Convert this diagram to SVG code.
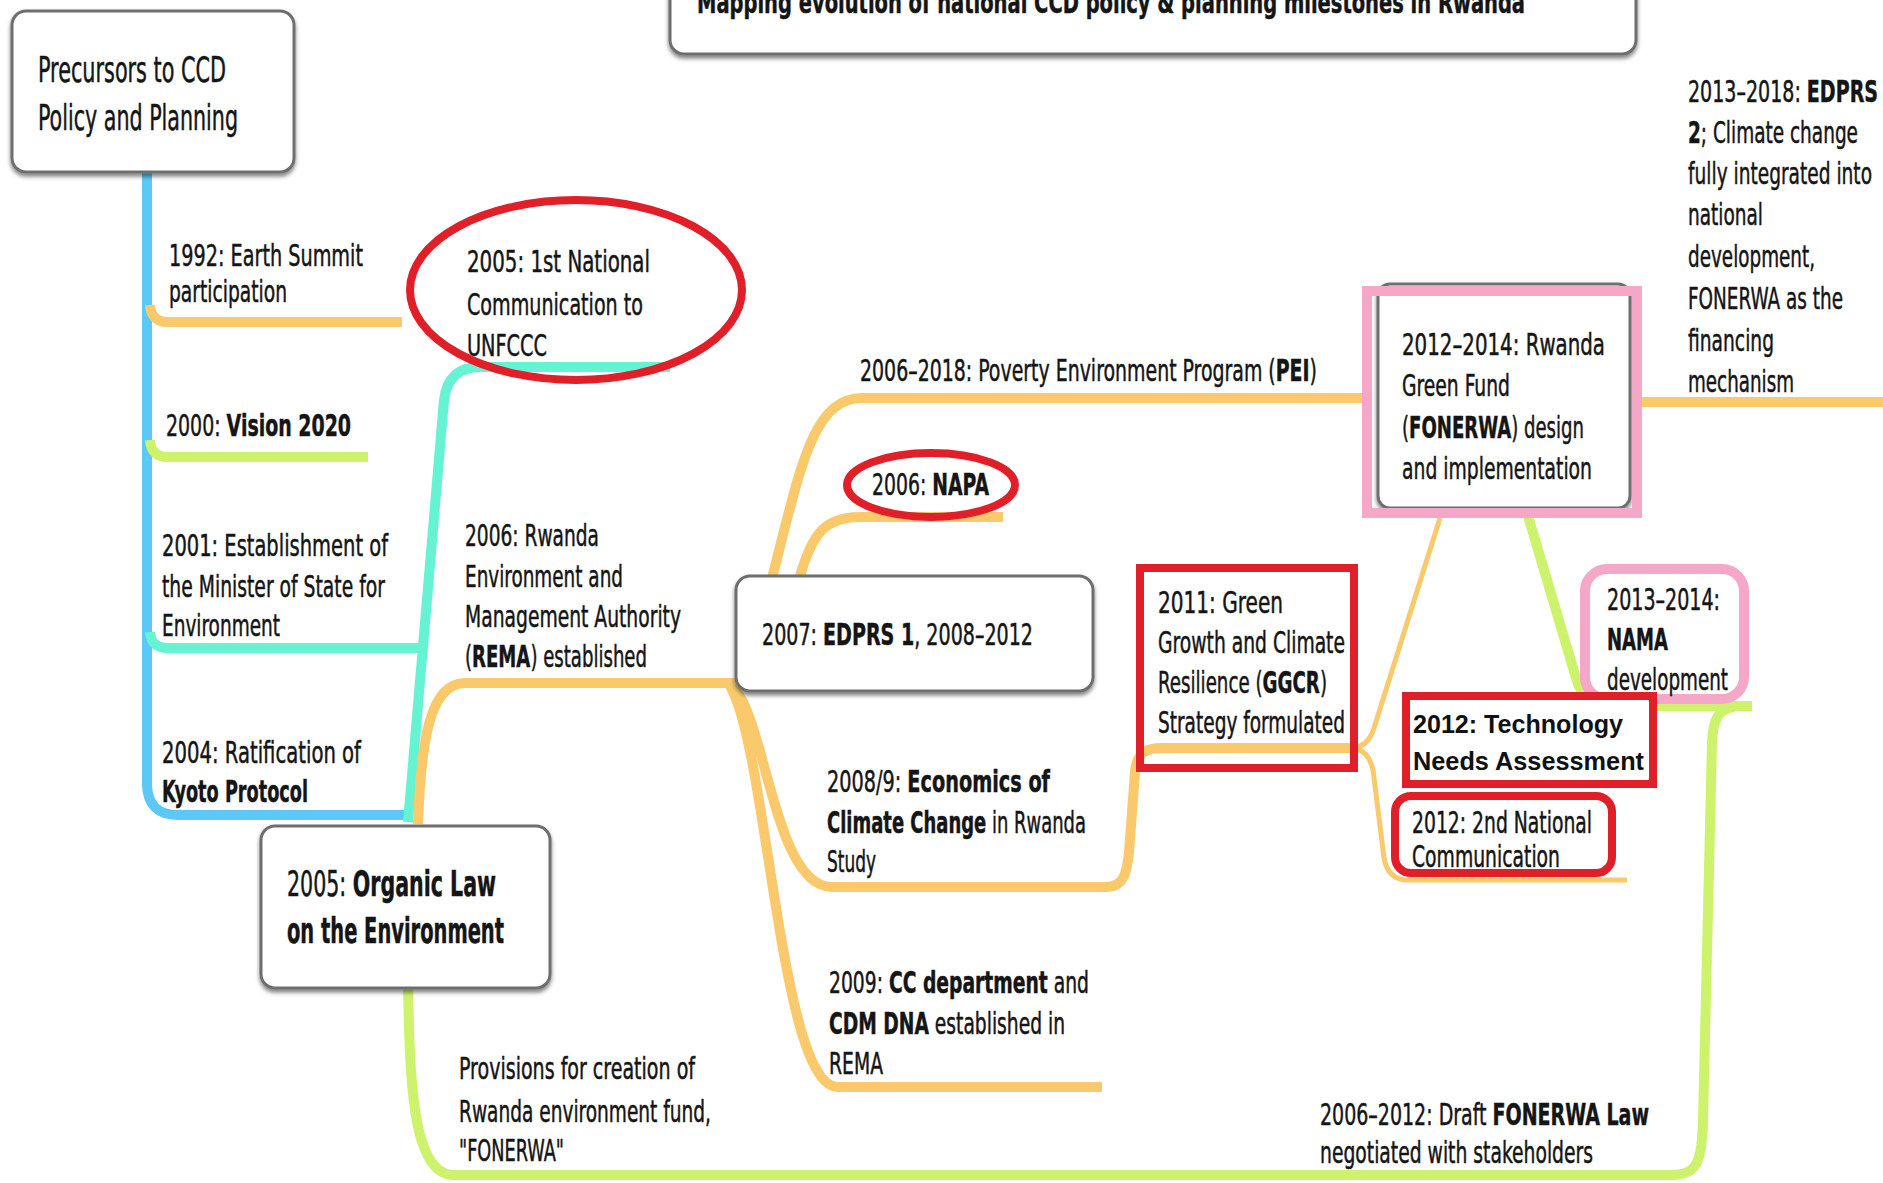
<svg xmlns="http://www.w3.org/2000/svg" width="1883" height="1183" viewBox="0 0 1883 1183">
<defs>
<filter id="sh" x="-10%" y="-10%" width="120%" height="130%">
<feDropShadow dx="0" dy="3" stdDeviation="2" flood-color="#000" flood-opacity="0.5"/>
</filter>
<style>
.t{font-family:"Liberation Sans Narrow","DejaVu Sans Condensed","Liberation Sans",sans-serif;font-size:31px;fill:#151515;stroke:#151515;stroke-width:0.5px}
.big{font-size:36px}
.b{font-weight:bold}
.tna{font-family:"Liberation Sans","Noto Sans",sans-serif;font-size:25px;font-weight:bold;fill:#111}
.box{fill:#fff;stroke:#6e6e6e;stroke-width:3}
.c{fill:none;stroke-linecap:butt;stroke-linejoin:round}
.or{stroke:#F9C96C;stroke-width:10}
.ort{stroke:#F9C96C;stroke-width:5}
.bl{stroke:#5CC8F6;stroke-width:10}
.cy{stroke:#66F3D4;stroke-width:10}
.gr{stroke:#CDF26C;stroke-width:10}
.red{fill:none;stroke:#E11F29;stroke-width:8}
.pink{fill:none;stroke:#F4A7C6;stroke-width:10}
</style>
</defs>
<rect width="1883" height="1183" fill="#fff"/>

<g id="connectors">
<path class="c bl" d="M147 172 L147 785 Q148 815 178 815 L410 815"/>
<path class="c or" d="M150 305 Q151 322 168 322 L402 322"/>
<path class="c gr" d="M150 440 Q151 457 168 457 L368 457"/>
<path class="c cy" d="M150 632 Q151 648 168 648 L421 648"/>
<path class="c cy" d="M408 822 L444 400 Q448 367 480 367 L670 367"/>
<path class="c or" d="M418 824 C421 740 430 683 465 683 L736 683"/>
<path class="c or" d="M772 578 C800 470 812 398 862 398 L1368 398"/>
<path class="c or" d="M800 576 C812 535 824 517 860 517 L1003 517"/>
<path class="c or" d="M730 686 C765 705 772 887 832 887 L1106 887 C1124 887 1127 872 1129 852 L1135 772 C1137 752 1146 748 1162 748 L1352 748"/>
<path class="c or" d="M730 686 C768 750 780 1087 838 1087 L1102 1087"/>
<path class="c ort" d="M1350 748 Q1368 748 1374 728 L1440 518"/>
<path class="c ort" d="M1350 748 Q1368 748 1373 770 L1384 858 Q1388 880 1408 880 L1627 880"/>
<path class="c or" d="M1637 402 L1883 402"/>
<path class="c gr" d="M1528 516 L1576 678 Q1584 706 1612 706 L1752 706"/>
<path class="c gr" d="M408 988 C410 1080 412 1172 452 1175 L1672 1175 C1698 1175 1702 1160 1703 1120 L1712 742 C1713 716 1720 708 1738 706"/>
</g>

<g id="title">
<rect class="box" filter="url(#sh)" x="670" y="-20" width="966" height="74" rx="14"/>
<text class="t b" x="697" y="13" font-size="29" textLength="828" lengthAdjust="spacingAndGlyphs">Mapping evolution of national CCD policy &amp; planning milestones in Rwanda</text>
</g>

<g id="precursors">
<rect class="box" filter="url(#sh)" x="12" y="11" width="282" height="161" rx="14"/>
<text class="t big" x="38" y="82" textLength="188" lengthAdjust="spacingAndGlyphs">Precursors to CCD</text>
<text class="t big" x="38" y="130" textLength="200" lengthAdjust="spacingAndGlyphs">Policy and Planning</text>
</g>

<g id="n1992">
<text class="t" x="169" y="266" textLength="194" lengthAdjust="spacingAndGlyphs">1992: Earth Summit</text>
<text class="t" x="169" y="302" textLength="118" lengthAdjust="spacingAndGlyphs">participation</text>
</g>

<g id="n2000">
<text class="t" x="166" y="436" textLength="185" lengthAdjust="spacingAndGlyphs">2000: <tspan class="b">Vision 2020</tspan></text>
</g>

<g id="n2001">
<text class="t" x="162" y="556" textLength="226" lengthAdjust="spacingAndGlyphs">2001: Establishment of</text>
<text class="t" x="162" y="597" textLength="223" lengthAdjust="spacingAndGlyphs">the Minister of State for</text>
<text class="t" x="162" y="636" textLength="118" lengthAdjust="spacingAndGlyphs">Environment</text>
</g>

<g id="n2004">
<text class="t" x="162" y="763" textLength="199" lengthAdjust="spacingAndGlyphs">2004: Ratification of</text>
<text class="t b" x="162" y="802" textLength="146" lengthAdjust="spacingAndGlyphs">Kyoto Protocol</text>
</g>

<g id="n2005nc">
<text class="t" x="467" y="272" textLength="183" lengthAdjust="spacingAndGlyphs">2005: 1st National</text>
<text class="t" x="467" y="315" textLength="176" lengthAdjust="spacingAndGlyphs">Communication to</text>
<text class="t" x="467" y="356" textLength="80" lengthAdjust="spacingAndGlyphs">UNFCCC</text>
<ellipse class="red" cx="576" cy="290" rx="166" ry="90"/>
</g>

<g id="rema">
<text class="t" x="465" y="546" textLength="134" lengthAdjust="spacingAndGlyphs">2006: Rwanda</text>
<text class="t" x="465" y="587" textLength="158" lengthAdjust="spacingAndGlyphs">Environment and</text>
<text class="t" x="465" y="627" textLength="216" lengthAdjust="spacingAndGlyphs">Management Authority</text>
<text class="t" x="465" y="667" textLength="182" lengthAdjust="spacingAndGlyphs">(<tspan class="b">REMA</tspan>) established</text>
</g>

<g id="organic">
<rect class="box" filter="url(#sh)" x="261" y="826" width="289" height="162" rx="14"/>
<text class="t big" x="287" y="896" textLength="209" lengthAdjust="spacingAndGlyphs">2005: <tspan class="b">Organic Law</tspan></text>
<text class="t big b" x="287" y="943" textLength="217" lengthAdjust="spacingAndGlyphs">on the Environment</text>
</g>

<g id="provisions">
<text class="t" x="459" y="1079" textLength="236" lengthAdjust="spacingAndGlyphs">Provisions for creation of</text>
<text class="t" x="459" y="1122" textLength="252" lengthAdjust="spacingAndGlyphs">Rwanda environment fund,</text>
<text class="t" x="459" y="1161" textLength="105" lengthAdjust="spacingAndGlyphs">"FONERWA"</text>
</g>

<g id="pei">
<text class="t" x="860" y="381" textLength="457" lengthAdjust="spacingAndGlyphs">2006–2018: Poverty Environment Program (<tspan class="b">PEI</tspan>)</text>
</g>

<g id="napa">
<text class="t" x="872" y="495" textLength="117" lengthAdjust="spacingAndGlyphs">2006: <tspan class="b">NAPA</tspan></text>
<ellipse class="red" cx="931" cy="485" rx="84" ry="32" stroke-width="7"/>
</g>

<g id="edprs1">
<rect class="box" filter="url(#sh)" x="736" y="576" width="357" height="115" rx="14"/>
<text class="t" x="762" y="645" textLength="271" lengthAdjust="spacingAndGlyphs">2007: <tspan class="b">EDPRS 1</tspan>, 2008–2012</text>
</g>

<g id="economics">
<text class="t" x="827" y="792" textLength="223" lengthAdjust="spacingAndGlyphs">2008/9: <tspan class="b">Economics of</tspan></text>
<text class="t" x="827" y="833" textLength="259" lengthAdjust="spacingAndGlyphs"><tspan class="b">Climate Change</tspan> in Rwanda</text>
<text class="t" x="827" y="872" textLength="49" lengthAdjust="spacingAndGlyphs">Study</text>
</g>

<g id="cc2009">
<text class="t" x="829" y="993" textLength="260" lengthAdjust="spacingAndGlyphs">2009: <tspan class="b">CC department</tspan> and</text>
<text class="t" x="829" y="1034" textLength="236" lengthAdjust="spacingAndGlyphs"><tspan class="b">CDM DNA</tspan> established in</text>
<text class="t" x="829" y="1074" textLength="54" lengthAdjust="spacingAndGlyphs">REMA</text>
</g>

<g id="ggcr">
<text class="t" x="1158" y="613" textLength="125" lengthAdjust="spacingAndGlyphs">2011: Green</text>
<text class="t" x="1158" y="653" textLength="187" lengthAdjust="spacingAndGlyphs">Growth and Climate</text>
<text class="t" x="1158" y="693" textLength="169" lengthAdjust="spacingAndGlyphs">Resilience (<tspan class="b">GGCR</tspan>)</text>
<text class="t" x="1158" y="733" textLength="187" lengthAdjust="spacingAndGlyphs">Strategy formulated</text>
<rect class="red" x="1140" y="568" width="214" height="200" stroke-width="9"/>
</g>

<g id="fonerwa">
<rect class="box" filter="url(#sh)" x="1378" y="284" width="252" height="224" rx="12"/>
<rect class="pink" x="1367" y="291" width="270" height="222"/>
<text class="t" x="1402" y="355" textLength="203" lengthAdjust="spacingAndGlyphs">2012–2014: Rwanda</text>
<text class="t" x="1402" y="396" textLength="108" lengthAdjust="spacingAndGlyphs">Green Fund</text>
<text class="t" x="1402" y="438" textLength="182" lengthAdjust="spacingAndGlyphs">(<tspan class="b">FONERWA</tspan>) design</text>
<text class="t" x="1402" y="479" textLength="190" lengthAdjust="spacingAndGlyphs">and implementation</text>
</g>

<g id="edprs2">
<text class="t" x="1688" y="102" textLength="190" lengthAdjust="spacingAndGlyphs">2013–2018: <tspan class="b">EDPRS</tspan></text>
<text class="t" x="1688" y="143" textLength="170" lengthAdjust="spacingAndGlyphs"><tspan class="b">2</tspan>; Climate change</text>
<text class="t" x="1688" y="184" textLength="184" lengthAdjust="spacingAndGlyphs">fully integrated into</text>
<text class="t" x="1688" y="225" textLength="75" lengthAdjust="spacingAndGlyphs">national</text>
<text class="t" x="1688" y="267" textLength="127" lengthAdjust="spacingAndGlyphs">development,</text>
<text class="t" x="1688" y="309" textLength="155" lengthAdjust="spacingAndGlyphs">FONERWA as the</text>
<text class="t" x="1688" y="351" textLength="86" lengthAdjust="spacingAndGlyphs">financing</text>
<text class="t" x="1688" y="392" textLength="106" lengthAdjust="spacingAndGlyphs">mechanism</text>
</g>

<g id="nama">
<rect class="pink" x="1585" y="569" width="159" height="130" rx="22" stroke-width="9"/>
<text class="t" x="1607" y="610" textLength="113" lengthAdjust="spacingAndGlyphs">2013–2014:</text>
<text class="t b" x="1607" y="650" textLength="61" lengthAdjust="spacingAndGlyphs">NAMA</text>
<text class="t" x="1607" y="690" textLength="121" lengthAdjust="spacingAndGlyphs">development</text>
</g>

<g id="tna">
<rect x="1406" y="696" width="247" height="88" fill="#fff" stroke="#E11F29" stroke-width="8"/>
<text class="tna" x="1413" y="733" textLength="210" lengthAdjust="spacingAndGlyphs">2012: Technology</text>
<text class="tna" x="1413" y="770" textLength="231" lengthAdjust="spacingAndGlyphs">Needs Assessment</text>
</g>

<g id="nc2">
<text class="t" x="1412" y="833" textLength="180" lengthAdjust="spacingAndGlyphs">2012: 2nd National</text>
<text class="t" x="1412" y="867" textLength="148" lengthAdjust="spacingAndGlyphs">Communication</text>
<rect class="red" x="1395" y="796" width="217" height="77" rx="16"/>
</g>

<g id="draftlaw">
<text class="t" x="1320" y="1125" textLength="329" lengthAdjust="spacingAndGlyphs">2006–2012: Draft <tspan class="b">FONERWA Law</tspan></text>
<text class="t" x="1320" y="1163" textLength="273" lengthAdjust="spacingAndGlyphs">negotiated with stakeholders</text>
</g>
</svg>
